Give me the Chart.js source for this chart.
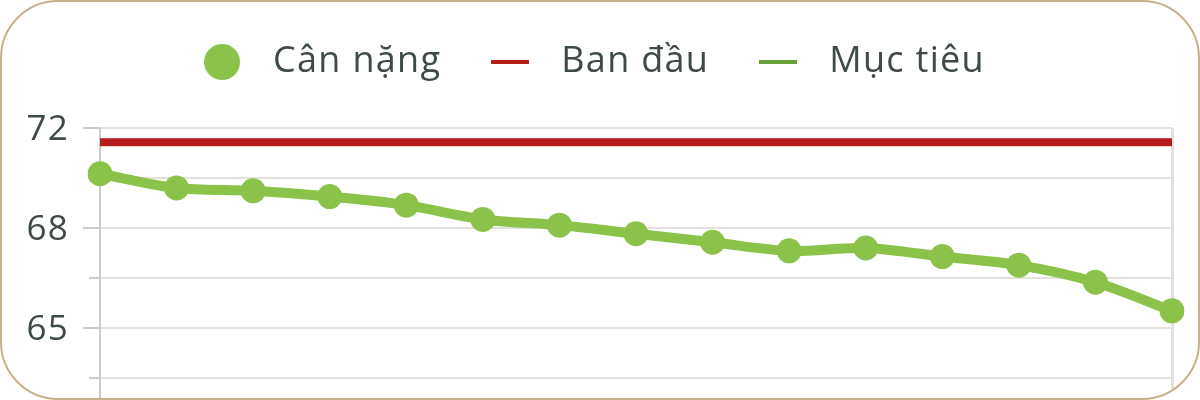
<!DOCTYPE html>
<html><head><meta charset="utf-8">
<script src="https://cdn.jsdelivr.net/npm/chart.js@4.4.1/dist/chart.umd.min.js"></script>
<style>
html,body{margin:0;padding:0;background:#fff;}
#box{box-sizing:border-box;width:1200px;height:400px;border:2px solid #c8b08a;border-radius:58px;overflow:hidden;background:#fff;}
#wrap{position:relative;width:1196px;height:396px;}
</style></head><body>
<div id="box"><div id="wrap"><canvas id="c"></canvas></div></div>
<script>
const categories = ['Tuần 1','Tuần 2','Tuần 3','Tuần 4','Tuần 5','Tuần 6','Tuần 7','Tuần 8','Tuần 9','Tuần 10','Tuần 11','Tuần 12','Tuần 13','Tuần 14','Tuần 15'];
const weightValues = [69.9, 69.4, 69.3, 69.1, 68.8, 68.3, 68.1, 67.8, 67.5, 67.2, 67.3, 67.0, 66.7, 66.1, 65.1];
const baselineValues = [71, 71, 71, 71, 71, 71, 71, 71, 71, 71, 71, 71, 71, 71, 71];
const targetValues = [60, 60, 60, 60, 60, 60, 60, 60, 60, 60, 60, 60, 60, 60, 60];
const seriesNames = ['Cân nặng', 'Ban đầu', 'Mục tiêu'];
const yTickValues = [71.5, 69.75, 68, 66.25, 64.5, 62.75];
const yTickLabels = ['72', '', '68', '', '65', ''];

const TEXT = '#3e4a45';
const FONT = "'Open Sans', 'Noto Sans', sans-serif";
const GREEN = '#8bc34a', RED = '#b71c1c', DARKGREEN = '#689f38';

function makeCircle(color, r) {
  const c = document.createElement('canvas'); c.width = 2*r; c.height = 2*r;
  const g = c.getContext('2d'); g.fillStyle = color; g.beginPath(); g.arc(r, r, r, 0, Math.PI*2); g.fill();
  return c;
}
function makeLine(color, w, h) {
  const c = document.createElement('canvas'); c.width = w; c.height = h;
  const g = c.getContext('2d'); g.fillStyle = color; g.fillRect(0, 0, w, h);
  return c;
}
const legendIcons = [makeCircle(GREEN, 18), makeLine(RED, 38, 4), makeLine(DARKGREEN, 38, 4)];

const helperPlugin = {
  id: 'helper',
  beforeLayout(chart) {
    chart.ctx.letterSpacing = '1.3px';
    const lg = chart.legend;
    if (lg && !lg._patched) {
      const f = lg.fit;
      lg.fit = function() { f.call(this); this.height += 38; };
      lg._patched = true;
    }
  },
  beforeDraw(chart) { chart.ctx.letterSpacing = '1.3px'; }
};

new Chart(document.getElementById('c'), {
  type: 'line',
  data: {
    labels: categories,
    datasets: [
      { label: seriesNames[0], data: weightValues, borderColor: GREEN, backgroundColor: GREEN,
        borderWidth: 10, pointRadius: 12.5, pointBackgroundColor: GREEN, pointBorderWidth: 0,
        pointHoverRadius: 12.5, tension: 0.3, order: 1 },
      { label: seriesNames[1], data: baselineValues, borderColor: RED, backgroundColor: RED,
        borderWidth: 8, pointRadius: 0, pointStyle: 'line', tension: 0, order: 2 },
      { label: seriesNames[2], data: targetValues, borderColor: DARKGREEN, backgroundColor: DARKGREEN,
        borderWidth: 8, pointRadius: 0, pointStyle: 'line', tension: 0, order: 3 }
    ]
  },
  options: {
    responsive: true, maintainAspectRatio: false, animation: false,
    layout: { autoPadding: false, padding: { top: 6, right: 26, bottom: 0, left: 0 } },
    plugins: {
      tooltip: { enabled: false },
      legend: {
        position: 'top',
        labels: {
          usePointStyle: true, pointStyleWidth: 66, padding: 36,
          color: TEXT, font: { family: FONT, size: 36 },
          generateLabels(chart) {
            const items = Chart.defaults.plugins.legend.labels.generateLabels(chart);
            items.forEach((it, i) => { it.pointStyle = legendIcons[i]; });
            return items;
          }
        }
      }
    },
    scales: {
      x: {
        offset: false,
        ticks: { display: false },
        border: { display: false },
        grid: { drawTicks: false, lineWidth: 3,
          color: ctx => ctx.index === categories.length - 1 ? '#e2dfdc' : 'rgba(0,0,0,0)' },
        afterFit(s) { s.height = 0; s.paddingLeft = 0; s.paddingRight = 0; }
      },
      y: {
        min: 62.05, max: 71.5,
        afterBuildTicks(s) { s.ticks = yTickValues.map(v => ({ value: v })); },
        afterFit(s) { s.width = 98; s.paddingTop = 0; s.paddingBottom = 0; },
        ticks: { autoSkip: false, padding: 14, labelOffset: 2, color: TEXT, font: { family: FONT, size: 35 },
          callback: (v, i) => yTickLabels[i] },
        grid: { color: '#e4e1dd', lineWidth: 2, tickLength: 17, tickColor: '#c6cecb', tickWidth: 2,
          tickBorderDash: ctx => yTickLabels[ctx.index] ? [] : [0, 6, 40] },
        border: { color: '#c6cecb', width: 2 }
      }
    }
  },
  plugins: [helperPlugin]
});
</script>
</body></html>
